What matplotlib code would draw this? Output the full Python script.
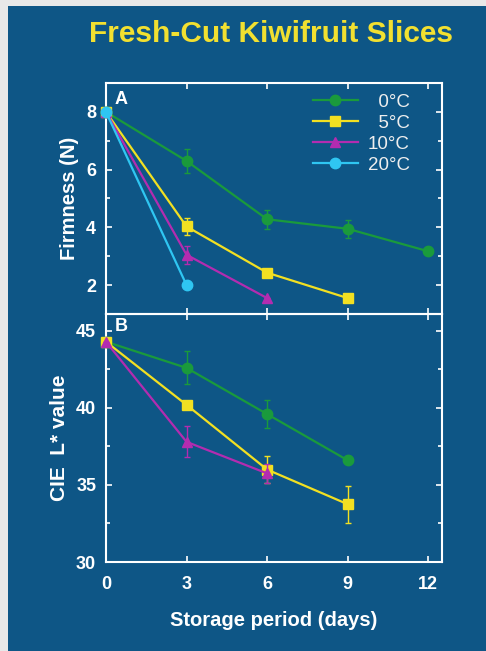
import matplotlib.pyplot as plt
from matplotlib.lines import Line2D
from matplotlib.patches import Rectangle

plt.rcParams['font.family'] = ['Liberation Sans', 'DejaVu Sans']

# storage days
days = [0, 3, 6, 9, 12]

# panel A: firmness (N)
firm_0 = [8.0, 6.3, 4.28, 3.95, 3.17]
firm_0_err = [0.0, 0.42, 0.32, 0.32, 0.0]
firm_5 = [8.0, 4.03, 2.43, 1.55]
firm_5_err = [0.0, 0.3, 0.0, 0.0]
firm_10 = [8.0, 3.05, 1.55]
firm_10_err = [0.0, 0.32, 0.0]
firm_20 = [8.0, 2.0]

# panel B: CIE L* value
L_0 = [44.3, 42.6, 39.6, 36.6]
L_0_err = [0.0, 1.07, 0.9, 0.0]
L_5 = [44.3, 40.2, 36.0, 33.75]
L_5_err = [0.0, 0.0, 0.9, 1.2]
L_10 = [44.3, 37.8, 35.75]
L_10_err = [0.0, 1.0, 0.6]

labels = ['0°C', '5°C', '10°C', '20°C']
colors = ['#1a9a3c', '#f2e022', '#b32cb0', '#2fc6f2']
markers = ['o', 's', '^', 'o']

bg = '#0e5686'
fg = 'white'

fig = plt.figure(figsize=(4.86, 6.51), dpi=100, facecolor='#e8e8e8')
fig.patches.append(Rectangle((8 / 486, 0), 1, 1 - 6 / 651, transform=fig.transFigure,
                             facecolor=bg, edgecolor='none', zorder=-10))

axA = fig.add_axes([0.218, 0.5177, 0.691, 0.3548])
axB = fig.add_axes([0.218, 0.1367, 0.691, 0.381])


def plot_series(ax, y, err, i):
    x = days[:len(y)]
    ax.errorbar(x, y, yerr=err, color=colors[i], marker=markers[i], ms=7.5, lw=1.6,
                elinewidth=1, capsize=2, capthick=1, clip_on=False, zorder=3 + i)


plot_series(axA, firm_0, firm_0_err, 0)
plot_series(axA, firm_5, firm_5_err, 1)
plot_series(axA, firm_10, firm_10_err, 2)
plot_series(axA, firm_20, [0.0] * len(firm_20), 3)

plot_series(axB, L_0, L_0_err, 0)
plot_series(axB, L_5, L_5_err, 1)
plot_series(axB, L_10, L_10_err, 2)

for ax in (axA, axB):
    ax.set_facecolor('none')
    for s in ax.spines.values():
        s.set_color(fg)
        s.set_linewidth(1.5)
    ax.set_xlim(0, 12.5)
    ax.set_xticks(days)
    ax.tick_params(which='both', direction='in', colors=fg, top=True, right=True,
                   labelsize=13, width=1.2)
    ax.tick_params(which='major', length=4)
    ax.tick_params(which='minor', length=3)
    ax.tick_params(axis='y', pad=7)
    ax.tick_params(axis='x', pad=10)

axA.set_ylim(1, 9)
axA.set_yticks([2, 4, 6, 8])
axA.set_yticks([3, 5, 7], minor=True)
axA.tick_params(labelbottom=False)
axA.set_ylabel('Firmness (N)', color=fg, fontsize=14.5, fontweight='bold', labelpad=5)
for t in axA.get_yticklabels():
    t.set_fontweight('bold')

axB.set_ylim(30, 46.1)
axB.set_yticks([30, 35, 40, 45])
axB.set_yticks([32.5, 37.5, 42.5], minor=True)
axB.set_ylabel('CIE  L* value', color=fg, fontsize=15, fontweight='bold', labelpad=5)
axB.set_xlabel('Storage period (days)', color=fg, fontsize=14.5, fontweight='bold', labelpad=13)
for t in axB.get_yticklabels() + axB.get_xticklabels():
    t.set_fontweight('bold')

axA.text(0.027, 0.965, 'A', transform=axA.transAxes, color=fg, fontsize=13,
         fontweight='bold', va='top')
axB.text(0.027, 0.985, 'B', transform=axB.transAxes, color=fg, fontsize=13,
         fontweight='bold', va='top')

pad_labels = ['\u2007' + l if len(l) == 3 else l for l in labels]
handles = [Line2D([], [], color=c, marker=m, ms=7.5, lw=1.6) for c, m in zip(colors, markers)]
leg = axA.legend(handles, pad_labels, loc='upper right', bbox_to_anchor=(0.905, 0.953),
                 borderaxespad=0, borderpad=0, frameon=False, fontsize=13.5,
                 handlelength=2.4, labelspacing=0.2, handletextpad=0.55,
                 labelcolor='#eeeeee')

fig.text(0.558, 0.948, 'Fresh-Cut Kiwifruit Slices', color='#f2e030', fontsize=21.5,
         fontweight='bold', ha='center', va='center')

fig.savefig('out.png', dpi=100, facecolor=fig.get_facecolor())
